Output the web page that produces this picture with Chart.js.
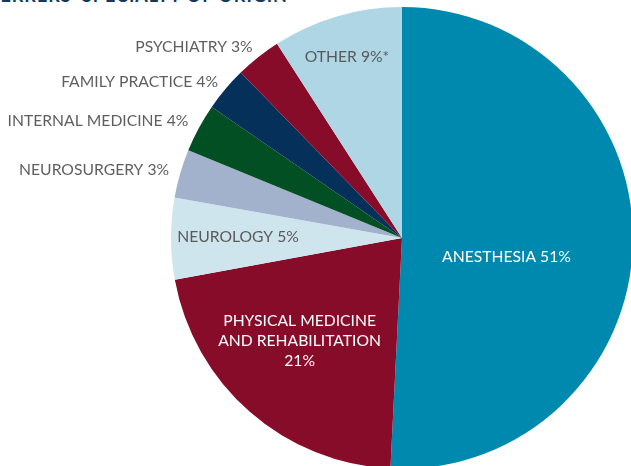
<!DOCTYPE html>
<html>
<head>
<meta charset="utf-8">
<script src="https://cdn.jsdelivr.net/npm/chart.js@4.4.1/dist/chart.umd.min.js"></script>
<style>
  html, body { margin: 0; padding: 0; background: #fff; }
  body { width: 631px; height: 466px; overflow: hidden; position: relative; }
  #title {
    position: absolute; left: -320px; top: -16px; width: 608px;
    text-align: right; font: bold 18px Lato, sans-serif; color: #14395a;
    letter-spacing: 1px; white-space: nowrap;
  }
  #wrap { position: absolute; left: 0; top: 0; width: 804px; height: 476px; }
</style>
</head>
<body>
<div id="title">REFERRERS' SPECIALTY OF ORIGIN</div>
<div id="wrap"><canvas id="myChart"></canvas></div>
<script>
// slices clockwise from 12 o'clock
var specialties = ["Anesthesia", "Physical Medicine and Rehabilitation", "Neurology", "Neurosurgery",
                   "Internal Medicine", "Family Practice", "Psychiatry", "Other"];
var shares = [50.8, 21.3, 5.7, 3.4, 3.4, 3.1, 3.2, 9.1];
var labelText = [["ANESTHESIA 51%"], ["PHYSICAL MEDICINE", "AND REHABILITATION", "21%"], ["NEUROLOGY 5%"],
                 ["NEUROSURGERY 3%"], ["INTERNAL MEDICINE 4%"], ["FAMILY PRACTICE 4%"], ["PSYCHIATRY 3%"], ["OTHER 9%*"]];

var colors = ['#0089ae', '#870c2a', '#cfe5ee', '#a2b1cc', '#034f24', '#04305a', '#870c2a', '#aed6e5'];
// where each label sits: fraction of radius, angle shift (deg), inside/outside
var place = [
  {r: 0.46, da: 9, color: '#ffffff', align: 'center'},
  {r: 0.63, da: 3.5, color: '#ffffff', align: 'center'},
  {r: 0.71, da: 0.5, color: '#5a5a5a', align: 'center'},
  {r: 1.05, da: 0, color: '#5f5f5f', align: 'right'},
  {r: 1.055, da: 0.3, color: '#5f5f5f', align: 'right'},
  {r: 1.045, da: 0.2, color: '#5f5f5f', align: 'right'},
  {r: 1.05, da: 0.5, color: '#5f5f5f', align: 'right'},
  {r: 0.82, da: -0.5, color: '#5a5a5a', align: 'center'}
];

var sliceLabels = {
  id: 'sliceLabels',
  afterDraw: function(chart) {
    var c = chart.ctx;
    var arcs = chart.getDatasetMeta(0).data;
    c.save();
    c.font = '15.7px Lato, sans-serif';
    c.textBaseline = 'middle';
    arcs.forEach(function(arc, i) {
      var p = place[i];
      var mid = (arc.startAngle + arc.endAngle) / 2 + p.da * Math.PI / 180;
      var rr = arc.outerRadius * p.r;
      var x = arc.x + Math.cos(mid) * rr;
      var y = arc.y + Math.sin(mid) * rr;
      var lines = labelText[i];
      c.fillStyle = p.color;
      c.textAlign = p.align;
      var lh = 20;
      lines.forEach(function(t, k) {
        c.fillText(t, x, y + (k - (lines.length - 1) / 2) * lh);
      });
    });
    c.restore();
  }
};

var myChart = new Chart(document.getElementById("myChart"), {
  type: 'pie',
  data: {
    labels: specialties,
    datasets: [{
      data: shares,
      backgroundColor: colors,
      borderWidth: 0
    }]
  },
  options: {
    responsive: true,
    maintainAspectRatio: false,
    animation: false,
    layout: { padding: { left: 171, right: 171, top: 7, bottom: 7 } },
    plugins: { legend: { display: false }, tooltip: { enabled: false } }
  },
  plugins: [sliceLabels]
});
</script>
</body>
</html>
